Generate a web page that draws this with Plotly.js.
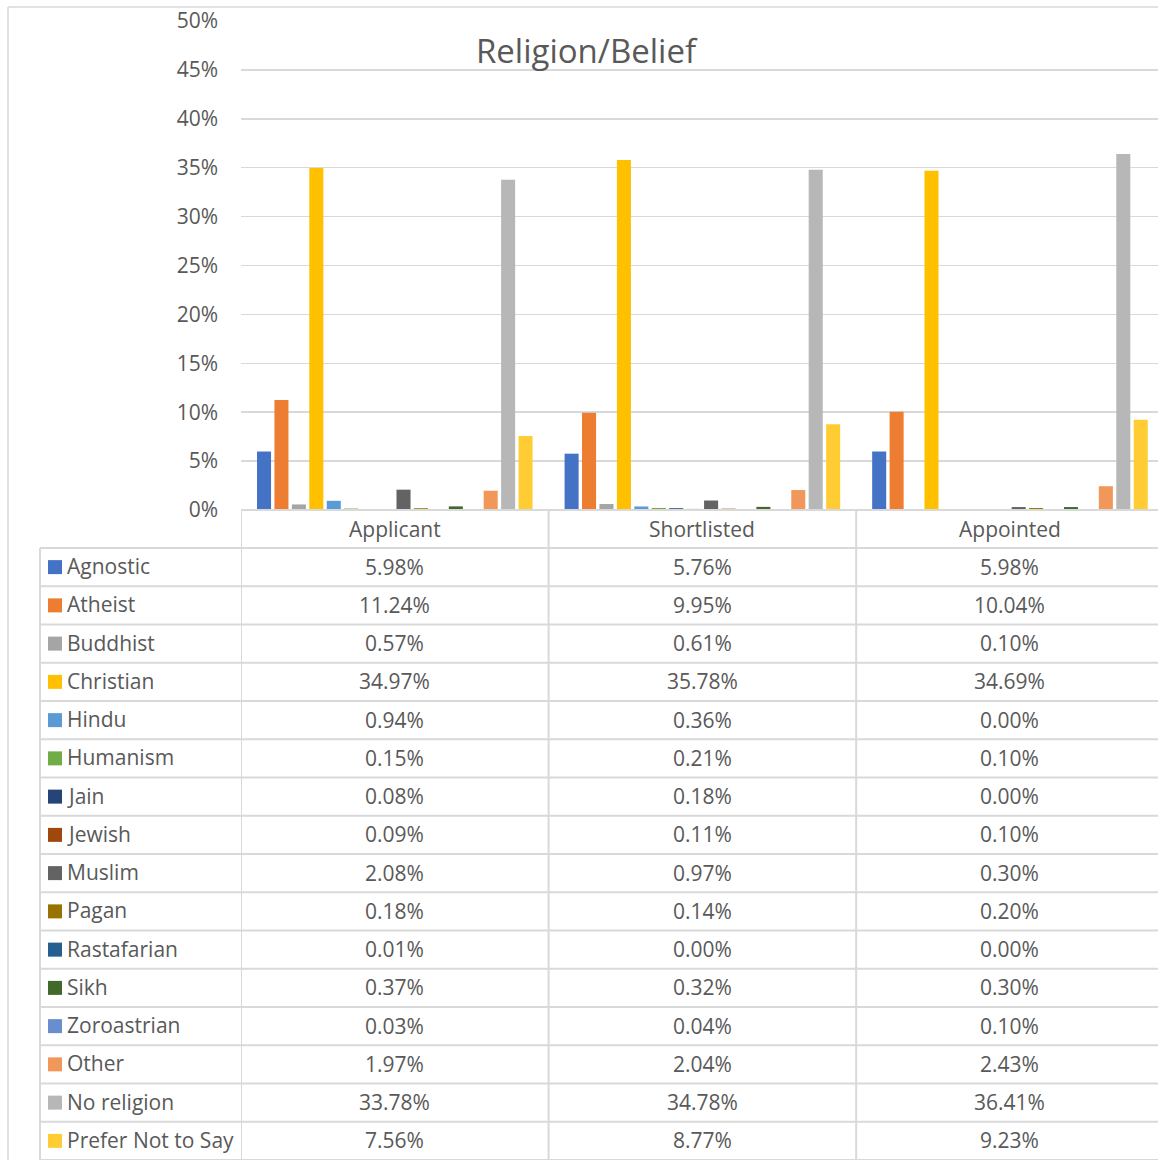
<!DOCTYPE html>
<html>
<head>
<meta charset="utf-8">
<script src="https://cdn.plot.ly/plotly-3.0.1.min.js"></script>
<style>
  html, body { margin: 0; padding: 0; background: #ffffff; }
  #chart { width: 1158px; height: 1160px; }
</style>
</head>
<body>
<div id="chart"></div>
<script>
// Religion / belief breakdown across recruitment stages (percent of each stage)
const stages = ['Applicant', 'Shortlisted', 'Appointed'];
const beliefs = ['Agnostic', 'Atheist', 'Buddhist', 'Christian', 'Hindu', 'Humanism', 'Jain',
  'Jewish', 'Muslim', 'Pagan', 'Rastafarian', 'Sikh', 'Zoroastrian', 'Other', 'No religion',
  'Prefer Not to Say'];
const applicant   = [5.98, 11.24, 0.57, 34.97, 0.94, 0.15, 0.08, 0.09, 2.08, 0.18, 0.01, 0.37, 0.03, 1.97, 33.78, 7.56];
const shortlisted = [5.76, 9.95, 0.61, 35.78, 0.36, 0.21, 0.18, 0.11, 0.97, 0.14, 0.00, 0.32, 0.04, 2.04, 34.78, 8.77];
const appointed   = [5.98, 10.04, 0.10, 34.69, 0.00, 0.10, 0.00, 0.10, 0.30, 0.20, 0.00, 0.30, 0.10, 2.43, 36.41, 9.23];
const colours = ['#4472C4', '#ED7D31', '#A5A5A5', '#FFC000', '#5B9BD5', '#70AD47', '#264478',
  '#9E480E', '#636363', '#997300', '#255E91', '#43682B', '#698ED0', '#F1975A', '#B7B7B7', '#FFCD33'];
const yTickValues = [0, 5, 10, 15, 20, 25, 30, 35, 40, 45, 50];

// page geometry (pixels)
const W = 1158, H = 1160;
const FONT = '"Open Sans", "Noto Sans", sans-serif';
const TXT = '#595959';
const LINE = '#D9D9D9';
const plotLeft = 241, plotTop = 21, axisY = 510;
const headerBottom = 548, rowH = 38.25, labelColLeft = 40;
const px = x => x / W;
const py = y => 1 - y / H;

const seriesByStage = [applicant, shortlisted, appointed];

const traces = beliefs.map((name, i) => ({
  type: 'bar',
  name: name,
  x: stages,
  y: seriesByStage.map(s => s[i]),
  marker: { color: colours[i], line: { width: 0 } },
  hoverinfo: 'x+y+name',
  showlegend: false
}));

const shapes = [];
const annotations = [];

// outer chart frame
shapes.push({ type: 'line', xref: 'paper', yref: 'paper', x0: px(8), x1: 1, y0: py(7), y1: py(7),
  line: { color: LINE, width: 1.5 } });
shapes.push({ type: 'line', xref: 'paper', yref: 'paper', x0: px(8), x1: px(8), y0: py(7), y1: 0,
  line: { color: LINE, width: 1.5 } });

// data table: horizontal rules
shapes.push({ type: 'line', xref: 'paper', yref: 'paper', x0: px(plotLeft), x1: 1,
  y0: py(axisY), y1: py(axisY), line: { color: LINE, width: 2 } });
for (let r = 0; r <= beliefs.length; r++) {
  const y = headerBottom + r * rowH;
  shapes.push({ type: 'line', xref: 'paper', yref: 'paper', x0: px(labelColLeft), x1: 1,
    y0: py(y), y1: py(y), line: { color: LINE, width: 2 } });
}
// data table: vertical rules
shapes.push({ type: 'line', xref: 'paper', yref: 'paper', x0: px(labelColLeft), x1: px(labelColLeft),
  y0: py(headerBottom), y1: 0, line: { color: LINE, width: 2 } });
[-0.5, 0.5, 1.5].forEach(xv => {
  shapes.push({ type: 'line', xref: 'x', yref: 'paper', x0: xv, x1: xv,
    y0: py(axisY), y1: 0, line: { color: LINE, width: 2 } });
});

// header row: stage names
stages.forEach(st => {
  annotations.push({ xref: 'x', yref: 'paper', x: st, y: py((axisY + headerBottom) / 2),
    text: st, showarrow: false, xanchor: 'center', yanchor: 'middle',
    font: { family: FONT, size: 21, color: TXT } });
});

// body rows: legend key, belief name and values
beliefs.forEach((name, i) => {
  const yc = headerBottom + i * rowH + rowH / 2;
  shapes.push({ type: 'rect', xref: 'paper', yref: 'paper', x0: px(48), x1: px(62),
    y0: py(yc - 7), y1: py(yc + 7), fillcolor: colours[i], line: { width: 0 } });
  annotations.push({ xref: 'paper', yref: 'paper', x: px(65), y: py(yc - 1), text: name,
    showarrow: false, xanchor: 'left', yanchor: 'middle',
    font: { family: FONT, size: 21, color: TXT } });
  stages.forEach((st, k) => {
    annotations.push({ xref: 'x', yref: 'paper', x: st, y: py(yc - 0.5),
      text: seriesByStage[k][i].toFixed(2) + '%', showarrow: false,
      xanchor: 'center', yanchor: 'middle',
      font: { family: FONT, size: 21, color: TXT } });
  });
});

const layout = {
  width: W,
  height: H,
  margin: { l: 0, r: 0, t: 0, b: 0 },
  paper_bgcolor: '#ffffff',
  plot_bgcolor: '#ffffff',
  font: { family: FONT, color: TXT },
  title: {
    text: 'Religion/Belief',
    x: px(586), y: py(51), xanchor: 'center', yanchor: 'middle',
    font: { family: FONT, size: 33, color: TXT }
  },
  barmode: 'group',
  bargap: 0.093,
  bargroupgap: 0.195,
  xaxis: {
    domain: [px(plotLeft), 1],
    range: [-0.5, (W - 395) / 307.5],
    type: 'category',
    showticklabels: false,
    showgrid: false,
    zeroline: false,
    showline: false,
    fixedrange: true
  },
  yaxis: {
    domain: [py(axisY), py(plotTop)],
    range: [0, 50],
    tickvals: yTickValues,
    ticktext: yTickValues.map(v => v + '%'),
    showgrid: true,
    gridcolor: LINE,
    gridwidth: 1.5,
    zeroline: false,
    showline: false,
    ticks: '',
    ticklabelstandoff: 22,
    tickfont: { family: FONT, size: 21, color: TXT },
    fixedrange: true
  },
  shapes: shapes,
  annotations: annotations
};

Plotly.newPlot('chart', traces, layout, { displayModeBar: false, staticPlot: true });
</script>
</body>
</html>
